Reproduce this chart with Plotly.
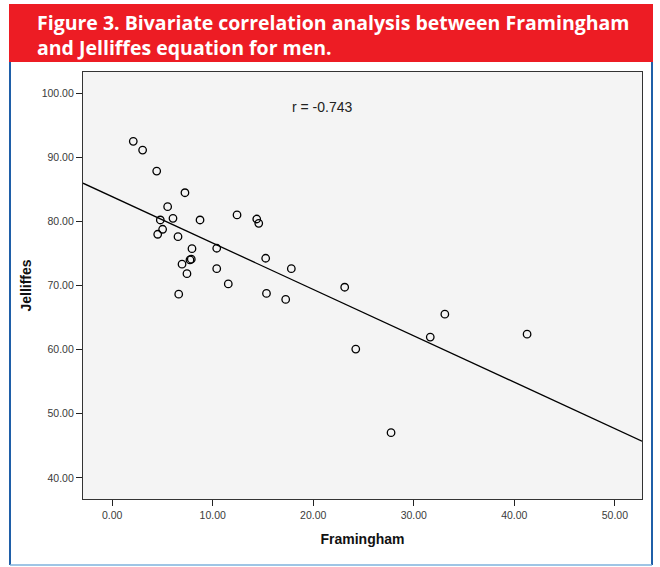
import numpy as np
import plotly.graph_objects as go

# Data
framingham = [2.10, 3.03, 4.43, 7.24, 5.52, 4.79, 6.05, 8.74, 12.42, 14.38, 14.58,
              5.02, 4.53, 6.55, 7.94, 10.40, 7.74, 7.87, 6.95, 10.40, 7.44, 15.27,
              17.82, 11.55, 6.62, 15.35, 17.26, 23.13, 33.09, 31.64, 24.23, 27.74, 41.27]
jelliffes = [92.48, 91.12, 87.85, 84.47, 82.29, 80.22, 80.48, 80.22, 81.00, 80.37, 79.70,
             78.77, 77.99, 77.62, 75.75, 75.81, 73.99, 74.10, 73.32, 72.63, 71.85, 74.25,
             72.63, 70.25, 68.64, 68.77, 67.83, 69.73, 65.53, 61.95, 60.08, 47.04, 62.41]
x_ticks = [0, 10, 20, 30, 40, 50]
y_ticks = [40, 50, 60, 70, 80, 90, 100]
x_range = [-2.9, 52.7]
y_range = [36.7, 103.3]
r_label = "r = -0.743"
title_lines = ["Figure 3. Bivariate correlation analysis between Framingham",
               "and Jelliffes equation for men."]

# Linear fit line across the axis range
slope, intercept = np.polyfit(framingham, jelliffes, 1)
fit_x = np.array(x_range)
fit_y = intercept + slope * fit_x

W, H = 660, 567
L, R, T, B = 83, 642, 72, 499
pw, ph = R - L, B - T

def px(x):
    return (x - L) / pw

def py(y):
    return (B - y) / ph

fig = go.Figure()
fig.add_trace(go.Scatter(x=fit_x, y=fit_y, mode="lines",
                         line=dict(color="black", width=1.3), hoverinfo="skip",
                         showlegend=False))
fig.add_trace(go.Scatter(x=framingham, y=jelliffes, mode="markers",
                         marker=dict(symbol="circle-open", size=7.5,
                                     line=dict(color="black", width=1.3), color="black"),
                         showlegend=False))

axis_font = dict(family="Liberation Sans, Arial", size=10.5, color="#3a3a3a")
fig.update_xaxes(range=x_range, tickvals=x_ticks,
                 ticktext=[f"{v:.2f}" for v in x_ticks],
                 showgrid=False, zeroline=False, showline=True, mirror=True,
                 linecolor="#333", linewidth=1.2, ticks="outside", ticklen=6,
                 tickcolor="#222", tickwidth=1.2, tickfont=axis_font,
                 title=dict(text="<b>Framingham</b>", standoff=14,
                            font=dict(family="Liberation Sans, Arial", size=14, color="#111")))
fig.update_yaxes(range=y_range, tickvals=y_ticks,
                 ticktext=[f"{v:.2f}" for v in y_ticks],
                 showgrid=False, zeroline=False, showline=True, mirror=True,
                 linecolor="#333", linewidth=1.2, ticks="outside", ticklen=6,
                 tickcolor="#222", tickwidth=1.2, tickfont=axis_font,
                 title=dict(text="<b>Jelliffes</b>", standoff=6,
                            font=dict(family="Liberation Sans, Arial", size=14, color="#111")))

shapes = [
    # red title band
    dict(type="rect", xref="paper", yref="paper", x0=px(9), x1=px(653), y0=py(62), y1=py(4),
         fillcolor="#ED1C24", line=dict(width=0), layer="below"),
    # blue frame
    dict(type="line", xref="paper", yref="paper", x0=px(10), x1=px(10), y0=py(565), y1=py(62),
         line=dict(color="#1F5FA8", width=2)),
    dict(type="line", xref="paper", yref="paper", x0=px(652), x1=px(652), y0=py(565), y1=py(62),
         line=dict(color="#1F5FA8", width=2)),
    dict(type="line", xref="paper", yref="paper", x0=px(10), x1=px(652), y0=py(565), y1=py(565),
         line=dict(color="#7FB2DD", width=1.5)),
]

annotations = [
    dict(text="<b>" + "<br>".join(title_lines) + "</b>", xref="paper", yref="paper",
         x=px(35), y=py(34.5), xanchor="left", yanchor="middle", align="left",
         showarrow=False,
         font=dict(family="Open Sans", size=19.5, color="white")),
    dict(text=r_label, xref="paper", yref="paper", x=px(322), y=py(107),
         xanchor="center", yanchor="middle", showarrow=False,
         font=dict(family="Liberation Sans, Arial", size=14, color="#222")),
]

fig.update_layout(width=W, height=H, margin=dict(l=L, r=W - R, t=T, b=H - B),
                  paper_bgcolor="white", plot_bgcolor="#F4F4F4",
                  shapes=shapes, annotations=annotations, showlegend=False)

fig.write_html("out.html", config={"displayModeBar": False},
               post_script="document.body.style.margin='0';document.body.style.padding='0';")
